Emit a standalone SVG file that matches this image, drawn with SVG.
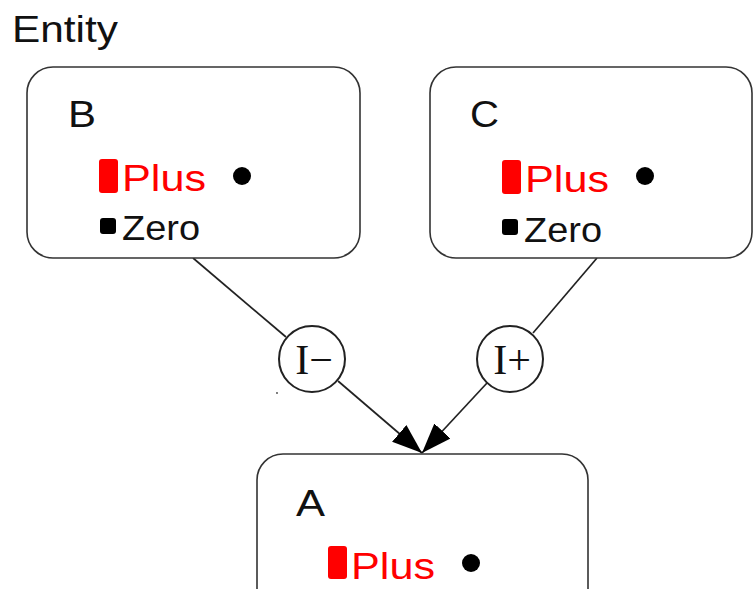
<svg xmlns="http://www.w3.org/2000/svg" width="755" height="589" viewBox="0 0 755 589">
<defs>
<style>
.box{fill:#fff;stroke:#333;stroke-width:1.6}
.lbl{font-family:"Liberation Sans",Arial,sans-serif;font-size:36px;fill:#111}
.plus{font-family:"Liberation Sans",Arial,sans-serif;font-size:37px;fill:#ff0000}
.zero{font-family:"Liberation Sans",Arial,sans-serif;font-size:35px;fill:#111}
.bar{fill:#ff0000}
.sq{fill:#000}
.dot{fill:#000}
.edge{stroke:#222;stroke-width:1.7;fill:none}
.inf{fill:#fff;stroke:#222;stroke-width:2}
.inft{font-family:"Liberation Serif","Times New Roman",serif;font-size:42px;fill:#111;text-anchor:middle}
</style>
<marker id="arr" markerUnits="userSpaceOnUse" markerWidth="32" markerHeight="24" refX="30" refY="11" orient="auto">
<path d="M0,0 L30,11 L0,22 Z" fill="#000"/>
</marker>
</defs>
<text class="lbl" x="12" y="42" textLength="106" lengthAdjust="spacingAndGlyphs">Entity</text>
<g id="connectors">
<line class="edge" x1="193" y1="258" x2="286" y2="337"/>
<line class="edge" x1="338" y1="381" x2="422" y2="453" marker-end="url(#arr)"/>
<line class="edge" x1="597" y1="258" x2="533" y2="333"/>
<line class="edge" x1="487" y1="383" x2="422" y2="453" marker-end="url(#arr)"/>
</g>
<g id="B">
<rect class="box" x="27" y="67" width="333" height="191" rx="26"/>
<text class="lbl" x="68" y="127" textLength="28" lengthAdjust="spacingAndGlyphs">B</text>
<rect class="bar" x="99" y="159" width="19" height="34" rx="3"/>
<text class="plus" x="122" y="191" textLength="84" lengthAdjust="spacingAndGlyphs">Plus</text>
<circle class="dot" cx="242" cy="176" r="9"/>
<rect class="sq" x="100" y="218" width="16" height="16" rx="3"/>
<text class="zero" x="122" y="240" textLength="78" lengthAdjust="spacingAndGlyphs">Zero</text>
</g>
<g id="C">
<rect class="box" x="430" y="67" width="322" height="191" rx="26"/>
<text class="lbl" x="470" y="127" textLength="29" lengthAdjust="spacingAndGlyphs">C</text>
<rect class="bar" x="502" y="160" width="19" height="34" rx="3"/>
<text class="plus" x="525" y="192" textLength="84" lengthAdjust="spacingAndGlyphs">Plus</text>
<circle class="dot" cx="645" cy="176" r="9"/>
<rect class="sq" x="502" y="219" width="16" height="16" rx="3"/>
<text class="zero" x="524" y="242" textLength="78" lengthAdjust="spacingAndGlyphs">Zero</text>
</g>
<g id="A">
<rect class="box" x="257" y="454" width="331" height="200" rx="26"/>
<text class="lbl" x="296" y="516" textLength="29" lengthAdjust="spacingAndGlyphs">A</text>
<rect class="bar" x="328" y="546" width="19" height="33" rx="3"/>
<text class="plus" x="351" y="579" textLength="84" lengthAdjust="spacingAndGlyphs">Plus</text>
<circle class="dot" cx="471" cy="563" r="9"/>
</g>
<g id="Iminus">
<circle class="inf" cx="312" cy="359" r="33"/>
<text class="inft" x="314" y="374">I−</text>
</g>
<g id="Iplus">
<circle class="inf" cx="510" cy="359" r="33"/>
<text class="inft" x="512" y="374">I+</text>
</g>
<circle cx="277" cy="393" r="0.9" fill="#444"/>
</svg>
